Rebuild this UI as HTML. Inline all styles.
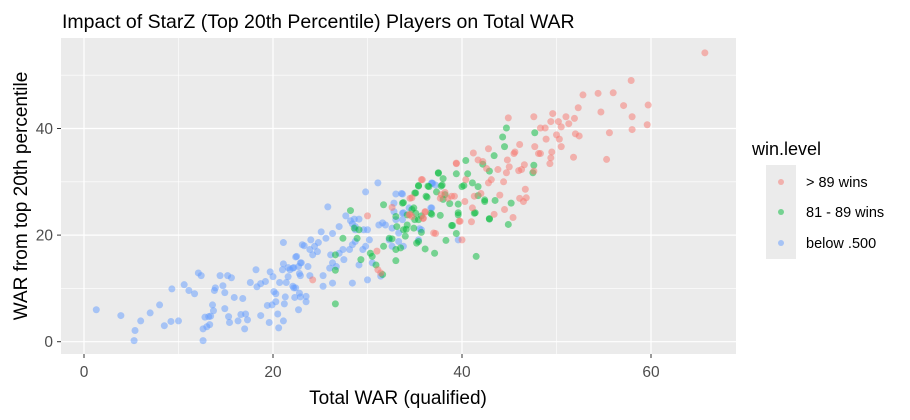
<!DOCTYPE html>
<html><head><meta charset="utf-8">
<style>
body{margin:0;background:#fff;font-family:"Liberation Sans",Arial,sans-serif;}
svg text{font-family:"Liberation Sans",Arial,sans-serif;}
</style></head>
<body>
<svg id="chart" width="910" height="415" viewBox="0 0 910 415">
<rect width="910" height="415" fill="#fff"/>
<text x="62" y="28" font-size="19.5" fill="#000">Impact of StarZ (Top 20th Percentile) Players on Total WAR</text>
<rect x="61" y="38" width="675" height="316" fill="#ebebeb"/>
<g id="grid"></g>
<g id="points"></g>
<g id="axes"></g>
<text x="398" y="404" font-size="19" text-anchor="middle" fill="#000">Total WAR (qualified)</text>
<text transform="translate(27,196) rotate(-90)" font-size="19" text-anchor="middle" fill="#000">WAR from top 20th percentile</text>
<g>
<text x="752" y="155" font-size="18" fill="#000">win.level</text>
<rect x="766" y="165" width="30" height="94" fill="#ebebeb"/>
<circle cx="781" cy="182" r="3" fill="#F8766D" fill-opacity="0.5"/>
<circle cx="781" cy="212" r="3" fill="#00BA38" fill-opacity="0.5"/>
<circle cx="781" cy="243" r="3" fill="#619CFF" fill-opacity="0.5"/>
<text x="806" y="187" font-size="14.5" fill="#000">&gt; 89 wins</text>
<text x="806" y="217" font-size="14.5" fill="#000">81 - 89 wins</text>
<text x="806" y="248" font-size="14.5" fill="#000">below .500</text>
</g>
</svg>
<script>
const xTicks=[0,20,40,60];
const yTicks=[0,20,40];
const xMinor=[10,30,50];
const yMinor=[10,30,50];
const redX=[65.7,57.9,52.8,54.4,56.0,57.1,59.7,58.0,58.0,59.6,55.6,54.7,55.3,51.8,52.3,51.9,51.3,51.0,50.2,49.6,49.4,48.8,48.3,47.6,50.5,50.0,50.3,50.5,49.5,48.9,52.0,52.4,49.4,49.3,48.3,48.1,47.7,47.6,46.7,46.1,46.5,46.8,46.1,45.5,45.6,44.9,44.8,45.0,44.7,46.0,46.6,46.3,42.8,43.8,44.0,44.4,45.4,44.5,43.4,41.1,41.0,39.7,39.4,41.2,41.7,42.2,42.6,42.8,43.1,42.0,41.3,40.4,38.2,37.8,37.0,35.7,34.7,34.5,35.9,36.1,38.9,39.2,30.0,32.6,34.5,34.4,34.7,36.1,35.9,37.2,35.8,24.2,31.0,31.1,31.4,37.7,38.5,39.8,40.0,40.3,39.4];
const redY=[54.2,49.0,46.3,46.6,46.7,44.3,44.4,42.2,39.8,40.7,39.2,43.1,34.2,34.6,43.9,41.9,40.9,42.2,41.3,42.8,41.3,40.1,40.1,42.2,40.3,38.8,38.0,36.6,35.6,38.0,39.0,38.6,34.5,33.4,35.3,35.3,36.6,32.0,28.6,26.9,26.3,27.0,37.0,35.3,35.6,42.0,34.1,32.8,31.7,32.1,33.2,32.3,36.2,32.3,27.5,30.0,23.3,24.8,23.9,25.1,22.5,22.6,33.4,35.4,34.1,33.8,32.5,29.8,30.4,27.8,27.3,30.4,28.0,27.6,20.4,30.4,27.0,23.9,23.1,24.3,27.3,27.3,23.6,25.2,26.9,23.8,23.5,24.4,23.2,20.3,30.4,11.6,17.0,13.5,12.9,26.9,26.9,22.6,19.1,26.3,33.5];
const greenX=[44.7,44.3,44.5,43.4,40.4,47.7,47.6,47.5,45.2,42.9,44.9,43.5,42.4,41.7,41.4,41.1,41.7,42.9,42.2,40.6,40.2,39.4,38.0,37.5,37.8,37.3,36.4,35.4,35.0,36.2,38.0,38.7,39.6,39.6,39.0,39.4,34.7,35.0,35.7,36.8,37.7,34.1,33.8,28.2,28.6,29.1,28.9,27.4,26.6,26.6,30.3,30.5,29.3,30.9,31.6,26.6,31.7,32.3,32.6,33.0,33.5,33.0,31.7,33.0,33.7,33.1,33.8,34.0,34.2,34.9,35.1,35.4,34.9,35.2,35.4,36.1,37.1,35.7,34.2,35.1,35.4,36.3,36.5,36.7,37.5,37.9,38.2,39.6,38.9,38.3,40.0,41.5,41.3,42.4,42.9];
const greenY=[40.1,38.4,36.6,34.9,34.0,39.2,33.1,31.7,26.0,23.1,22.0,26.5,26.6,27.4,24.2,29.8,29.1,32.0,33.3,31.5,29.3,31.5,30.6,31.7,29.2,28.1,29.2,29.2,27.9,27.3,26.7,25.9,25.8,24.2,21.8,20.3,24.8,22.9,23.6,23.9,23.7,21.1,26.1,24.6,21.3,21.0,19.4,19.4,16.3,13.4,16.6,16.0,15.4,14.4,12.6,7.1,17.9,19.4,19.3,17.3,17.6,15.2,25.7,23.5,26.0,21.6,21.0,19.8,21.9,25.1,24.1,22.9,21.3,18.5,18.8,17.4,16.6,20.5,23.8,27.9,29.3,27.1,29.1,24.1,31.6,29.4,27.6,23.8,21.8,19.0,29.1,16.0,24.1,26.3,23.0];
const blueX=[1.3,3.9,5.3,5.4,6.0,7.0,8.0,8.5,9.2,10.0,9.3,10.6,11.1,11.7,12.1,12.4,12.6,12.6,13.0,13.3,12.8,13.2,13.4,13.6,13.7,13.8,13.9,14.4,14.7,14.9,14.9,15.2,15.6,15.3,15.4,15.9,16.3,16.6,17.1,16.8,17.0,17.3,17.6,18.2,18.3,18.7,19.2,18.7,19.4,19.9,20.3,19.6,19.7,20.0,20.1,20.3,20.5,20.6,21.1,21.1,21.0,21.1,21.2,21.3,20.7,21.4,21.6,21.8,21.6,22.2,22.4,22.2,22.7,22.4,22.9,22.9,22.3,22.7,22.9,23.5,23.1,31.1,29.8,25.8,27.7,28.2,28.6,28.4,28.7,29.1,28.7,27.0,26.3,25.1,25.6,24.8,24.0,23.3,24.4,23.9,24.2,24.7,22.5,23.0,23.7,22.8,22.1,23.9,25.3,26.1,27.4,27.0,26.3,26.0,26.7,27.5,28.1,28.4,28.7,29.5,29.8,30.2,30.0,29.6,31.2,31.6,31.9,32.6,33.0,33.7,33.3,32.3,32.6,33.3,33.8,32.8,33.0,33.7,32.8,33.7,34.4,35.4,35.7,36.8,36.8,37.2,39.6,22.1,22.8,23.5,25.3,26.3,28.4,30.5,31.4,30.0,29.1,36.8,36.9,36.7,33.6,33.8,35.5];
const blueY=[6.0,4.9,0.2,2.1,3.9,5.4,6.9,3.0,3.8,3.9,9.9,10.7,9.6,9.0,12.9,12.4,0.2,2.4,2.8,3.2,4.6,4.7,4.8,6.9,5.8,9.6,10.1,12.4,10.5,9.2,6.2,12.4,12.0,4.7,3.6,8.3,3.9,5.1,5.2,8.1,2.4,4.1,11.1,13.5,10.3,10.9,11.3,4.9,6.8,6.9,7.5,3.6,13.1,12.2,9.4,9.0,5.2,2.6,18.6,14.6,13.5,3.9,7.1,8.4,11.1,11.1,13.9,13.5,12.2,10.1,10.1,13.9,14.1,15.9,14.8,12.4,8.3,6.0,8.4,7.5,18.2,29.8,28.1,25.3,23.6,22.7,23.0,22.1,21.6,23.0,21.0,21.6,20.3,20.6,19.4,18.6,19.1,18.0,17.9,17.3,16.3,16.9,16.0,14.8,14.1,12.8,13.8,12.4,12.4,16.3,17.3,16.6,14.8,13.8,14.1,15.4,17.3,18.2,18.8,17.3,17.9,19.1,21.0,21.0,21.9,22.3,21.9,21.3,22.9,22.9,20.4,19.1,17.9,18.8,17.9,24.4,27.7,27.7,26.0,24.1,25.1,19.1,21.0,25.1,29.8,29.4,19.1,10.4,9.1,8.5,10.4,11.0,11.0,14.8,12.3,11.6,14.4,29.7,29.7,25.1,27.8,24.2,21.2];

const NS='http://www.w3.org/2000/svg';
function xs(v){return 84+9.45*v;}
function ys(v){return 341.7-5.33*v;}
const grid=document.getElementById('grid');
const axes=document.getElementById('axes');
function mk(tag,attrs,parent){const e=document.createElementNS(NS,tag);for(const k in attrs)e.setAttribute(k,attrs[k]);parent.appendChild(e);return e;}
xMinor.forEach(v=>{const l=mk('line',{x1:xs(v),x2:xs(v),y1:38,y2:354,stroke:'#fff','stroke-width':0.6},grid);

});
yMinor.forEach(v=>{const l=mk('line',{x1:61,x2:736,y1:ys(v),y2:ys(v),stroke:'#fff','stroke-width':0.6},grid);

});
xTicks.forEach(v=>{const l=mk('line',{x1:xs(v),x2:xs(v),y1:38,y2:354,stroke:'#fff','stroke-width':1.2},grid);


const t=mk('line',{x1:xs(v),x2:xs(v),y1:354,y2:358,stroke:'#333','stroke-width':1},axes);


const tx=mk('text',{x:xs(v),y:377,'font-size':15.5,'text-anchor':'middle',fill:'#4d4d4d'},axes);tx.textContent=v;

});
yTicks.forEach(v=>{const l=mk('line',{x1:61,x2:736,y1:ys(v),y2:ys(v),stroke:'#fff','stroke-width':1.2},grid);


const t=mk('line',{x1:57,x2:61,y1:ys(v),y2:ys(v),stroke:'#333','stroke-width':1},axes);


const tx=mk('text',{x:53,y:ys(v)+5.5,'font-size':15.5,'text-anchor':'end',fill:'#4d4d4d'},axes);tx.textContent=v;

});
const pts=document.getElementById('points');
function series(X,Y,col,name){X.forEach((v,i)=>{const c=mk('circle',{cx:xs(v),cy:ys(Y[i]),r:3.5,fill:col,'fill-opacity':0.5},pts);

});}
series(blueX,blueY,'#619CFF','point-below-500');
series(greenX,greenY,'#00BA38','point-81-89-wins');
series(redX,redY,'#F8766D','point-gt-89-wins');
</script>
</body></html>
